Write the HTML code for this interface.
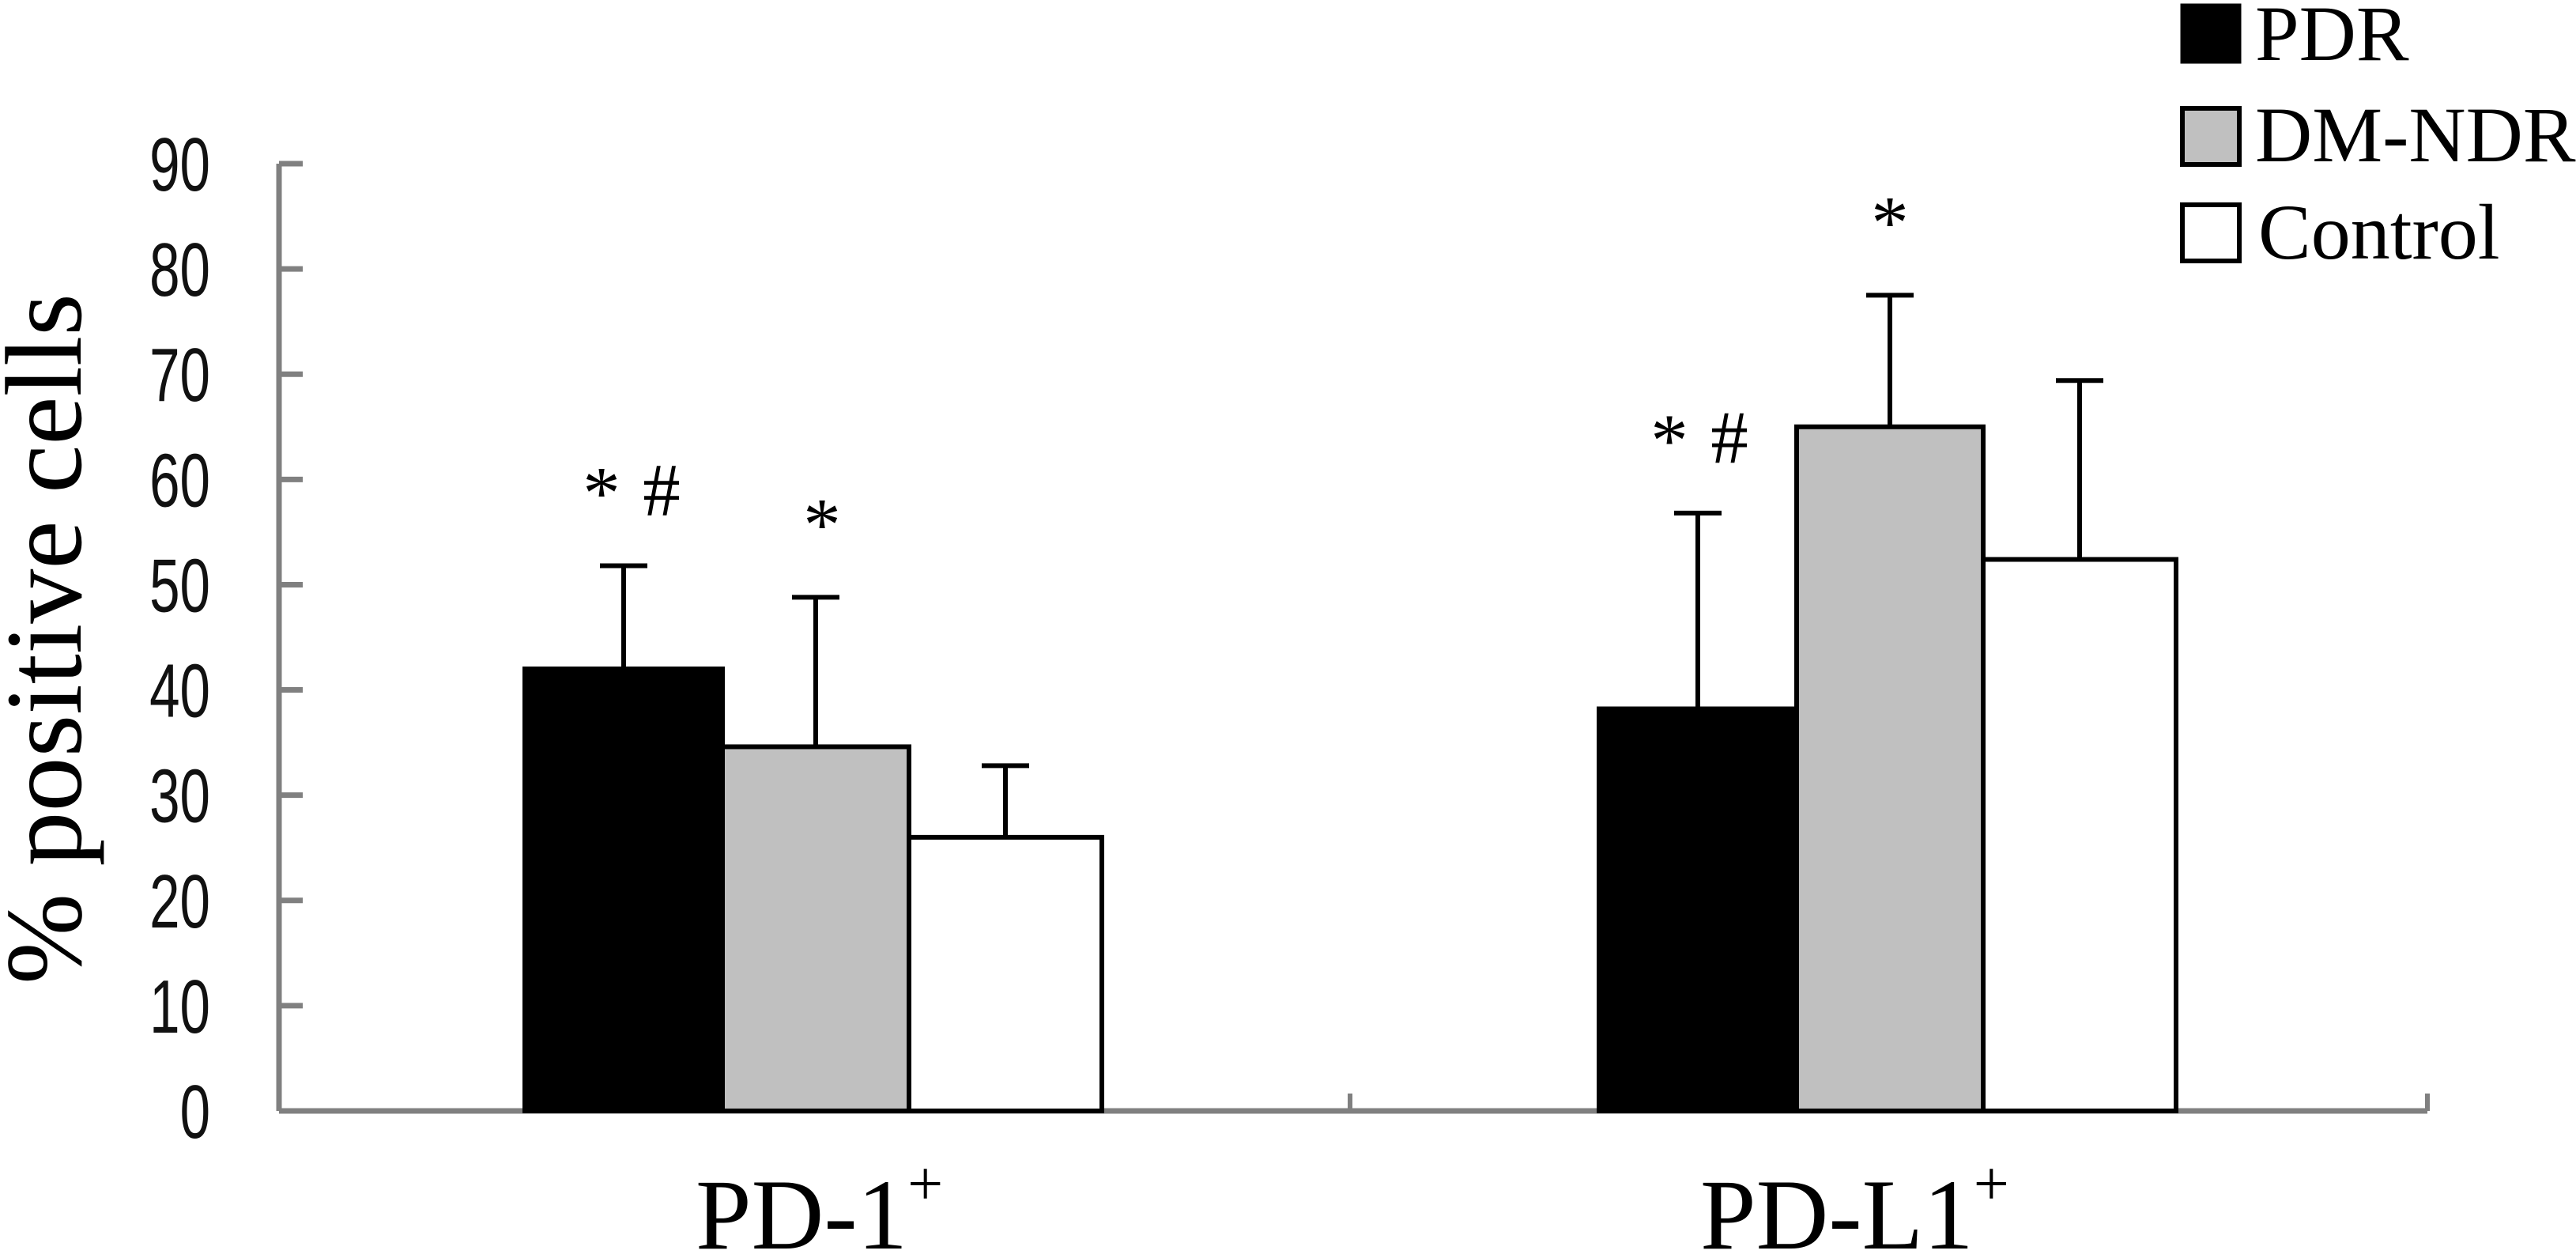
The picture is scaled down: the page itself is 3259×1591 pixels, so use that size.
<!DOCTYPE html>
<html><head><meta charset="utf-8"><style>
html,body{margin:0;padding:0;background:#fff;}
svg{display:block;}
</style></head><body>
<svg id="chart" width="3259" height="1591" viewBox="0 0 3259 1591" xmlns="http://www.w3.org/2000/svg">
<g id="axes"></g>
<g id="bars"></g>
<g id="annots"></g>
<text transform="translate(102,808) rotate(-90)" text-anchor="middle" font-family="Liberation Serif, serif" font-size="138" fill="#000">% positive cells</text>
<g>
  <g>
    <rect x="2761" y="7" width="72" height="71" fill="#000" stroke="#000" stroke-width="5"/>
    <text x="2853" y="76" font-family="Liberation Serif, serif" font-size="100">PDR</text>
  </g>
  <g>
    <rect x="2761" y="137" width="72" height="71" fill="#c0c0c0" stroke="#000" stroke-width="6"/>
    <text x="2853" y="204" font-family="Liberation Serif, serif" font-size="100">DM-NDR</text>
  </g>
  <g>
    <rect x="2761" y="259" width="72" height="71" fill="#fff" stroke="#000" stroke-width="6"/>
    <text x="2857" y="327" font-family="Liberation Serif, serif" font-size="100">Control</text>
  </g>
</g>
</svg>
<script>
const categories = ["PD-1", "PD-L1"];
const seriesNames = ["PDR", "DM-NDR", "Control"];
const pdrValues = [42.0, 38.2];
const dmndrValues = [34.6, 65.0];
const controlValues = [26.0, 52.4];
const pdrErrors = [9.8, 18.6];
const dmndrErrors = [14.2, 12.5];
const controlErrors = [6.8, 17.0];
const yTicks = [0, 10, 20, 30, 40, 50, 60, 70, 80, 90];
const annotations = [["* #", "*", ""], ["* #", "*", ""]];

const NS = "http://www.w3.org/2000/svg";
const x0 = 353, xEnd = 3071, y0 = 1405, yMaxPx = 207, yMax = 90;
const groupCenters = [1029, 2388];
const barWidths = [250, 236, 244];
function yScale(v){ return y0 - (v / yMax) * (y0 - yMaxPx); }
function xBar(g, s){ let x = groupCenters[g] - (barWidths[0]+barWidths[1]+barWidths[2])/2; for (let i = 0; i < s; i++) x += barWidths[i]; return x; }
function mk(tag, attrs, parent){ const e = document.createElementNS(NS, tag); for (const k in attrs) e.setAttribute(k, attrs[k]); parent.appendChild(e); return e; }

const axes = document.getElementById("axes");
const bars = document.getElementById("bars");
const annots = document.getElementById("annots");
const gray = "#808080";

const yAxis = mk("line", {x1:x0, y1:yScale(yMax), x2:x0, y2:y0, stroke:gray, "stroke-width":7}, axes);



yTicks.forEach(t => {
  const y = yScale(t);
  const tk = mk("line", {x1:x0, y1:y, x2:x0+30, y2:y, stroke:gray, "stroke-width":7}, axes);
  
  
  const lb = mk("text", {x:0, y:0, "text-anchor":"end", "font-family":"Liberation Sans, sans-serif", "font-size":96, transform:`translate(266,${y+34}) scale(0.72,1)`, fill:"#111"}, axes);
  lb.textContent = String(t);
  
  
});

const bars3 = [pdrValues, dmndrValues, controlValues];
const errs3 = [pdrErrors, dmndrErrors, controlErrors];
const fills = ["#000", "#c0c0c0", "#fff"];
const keys = ["pdr", "dm-ndr", "control"];
categories.forEach((c, g) => {
  for (let s = 0; s < 3; s++) {
    const v = bars3[s][g], e = errs3[s][g];
    const xl = xBar(g, s), w = barWidths[s], xc = xl + w/2;
    const el = mk("line", {x1:xc, y1:yScale(v), x2:xc, y2:yScale(v+e), stroke:"#000", "stroke-width":6}, bars);
    
    
    const cap = mk("line", {x1:xc-30, y1:yScale(v+e), x2:xc+30, y2:yScale(v+e), stroke:"#000", "stroke-width":6}, bars);
    
    
    const r = mk("rect", {x:xl, y:yScale(v), width:w, height:y0 - yScale(v), fill:fills[s], stroke:"#000", "stroke-width":6}, bars);
    
    
    const a = annotations[g][s];
    if (a) {
      const top = yScale(v+e);
      const parts = a.split(" ");
      parts.forEach((p, i) => {
        const dx = parts.length > 1 ? (i === 0 ? -36 : 40) : 0;
        const t = mk("text", {x:xc + dx + (g === 0 ? 8 : 0), y:top - (p === "#" ? 64 : 60), "text-anchor":"middle", "font-family":"Liberation Serif, serif", "font-size":95}, annots);
        t.textContent = p;
        
        
      });
    }
  }
  const lbl = mk("text", {x:g === 0 ? 880 : 2151, y:1579, "font-family":"Liberation Serif, serif", "font-size":127}, axes);
  lbl.innerHTML = c + '<tspan dy="-55" font-size="80">+</tspan>';
  
  
});

const xAxis = mk("line", {x1:x0, y1:y0, x2:xEnd, y2:y0, stroke:gray, "stroke-width":7}, axes);


[1708, xEnd].forEach(x => {
  const t = mk("line", {x1:x, y1:y0, x2:x, y2:y0-22, stroke:gray, "stroke-width":6}, axes);
  
  
});
</script>
</body></html>
